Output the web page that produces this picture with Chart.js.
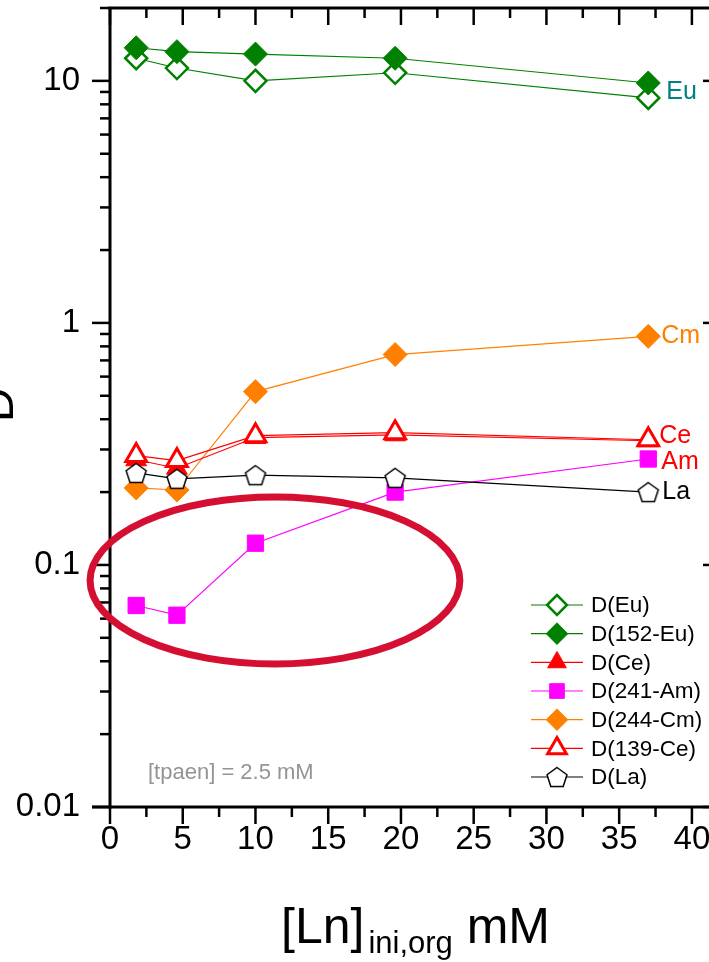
<!DOCTYPE html>
<html><head><meta charset="utf-8">
<script src="https://cdn.jsdelivr.net/npm/chart.js@4/dist/chart.umd.min.js"></script>
<style>
html,body{margin:0;padding:0;background:#fff;overflow:hidden}
#wrap{width:709px;height:962px;overflow:hidden;position:relative;background:#fff}
canvas{display:block;position:absolute;left:0;top:-7px}
</style>
</head><body>
<div id="wrap"><canvas id="c" width="740" height="969" style="width:740px;height:969px"></canvas></div>
<script>
// ---------- data ----------
const xConc   = [1.8, 4.6, 10, 19.6, 37];
const dEu     = [12.4, 11.3, 10.0, 10.8, 8.5];
const d152Eu  = [13.7, 13.2, 12.9, 12.4, 9.8];
const dCe     = [0.272, 0.251, 0.336, 0.345, 0.326];
const d241Am  = [0.068, 0.062, 0.123, 0.200, 0.274];
const d244Cm  = [0.208, 0.204, 0.52, 0.74, 0.88];
const d139Ce  = [0.283, 0.270, 0.342, 0.352, 0.329];
const dLa     = [0.240, 0.227, 0.235, 0.229, 0.200];
const seriesNames = ['D(Eu)', 'D(152-Eu)', 'D(Ce)', 'D(241-Am)', 'D(244-Cm)', 'D(139-Ce)', 'D(La)'];
const xTicks = [0, 5, 10, 15, 20, 25, 30, 35, 40];
const yTicks = [0.01, 0.1, 1, 10];
const endLabels = ['Eu', 'Cm', 'Ce', 'Am', 'La'];
const noteText = '[tpaen] = 2.5 mM';

// ---------- style ----------
const FONT = "'Liberation Sans', Arial, sans-serif";
const GREEN = '#008000', ORANGE = '#ff8000', RED = '#ff0000', MAGENTA = '#ff00ff', TEAL = '#008080';
const OY = 7; // canvas is shifted up by 7px

function pentagonImg() {
  const c = document.createElement('canvas');
  c.width = 26; c.height = 26;
  const g = c.getContext('2d');
  const R = 10.5, cx = 13, cy = 14;
  g.beginPath();
  for (let k = 0; k < 5; k++) {
    const ang = -Math.PI / 2 + k * 2 * Math.PI / 5;
    const px = cx + R * Math.cos(ang), py = cy + R * Math.sin(ang);
    k ? g.lineTo(px, py) : g.moveTo(px, py);
  }
  g.closePath();
  g.fillStyle = '#fff'; g.fill();
  g.strokeStyle = '#000'; g.lineWidth = 1.5; g.stroke();
  return c;
}
const PENT = pentagonImg();

function pts(arr) { return xConc.map((x, i) => ({ x: x, y: arr[i] })); }

const styles = [
  { color: GREEN,   style: 'rectRot',  radius: 11,  fill: '#fff',  bw: 2.5, order: 5 },
  { color: GREEN,   style: 'rectRot',  radius: 12,  fill: GREEN,   bw: 1,   order: 4 },
  { color: RED,     style: 'triangle', radius: 12,  fill: RED,     bw: 1,   order: 3 },
  { color: MAGENTA, style: 'rect',     radius: 11.5,fill: MAGENTA, bw: 1,   order: 6 },
  { color: ORANGE,  style: 'rectRot',  radius: 12,  fill: ORANGE,  bw: 1,   order: 7 },
  { color: RED,     style: 'triangle', radius: 12,  fill: '#fff',  bw: 3,   order: 1 },
  { color: '#000',  style: PENT,       radius: 11,  fill: '#fff',  bw: 1.5, order: 0 }
];
const seriesData = [dEu, d152Eu, dCe, d241Am, d244Cm, d139Ce, dLa];

const datasets = seriesNames.map((name, i) => {
  const s = styles[i];
  return {
    label: name,
    data: pts(seriesData[i]),
    borderColor: s.color,
    backgroundColor: s.fill,
    borderWidth: 1.2,
    tension: 0,
    pointStyle: s.style,
    pointRadius: s.radius,
    pointBorderWidth: s.bw,
    pointBackgroundColor: s.fill,
    pointBorderColor: s.color,
    order: s.order
  };
});

function line(ctx, x1, y1, x2, y2) { ctx.beginPath(); ctx.moveTo(x1, y1); ctx.lineTo(x2, y2); ctx.stroke(); }

const framePlugin = {
  id: 'frame',
  afterDatasetsDraw(chart) {
    const ctx = chart.ctx, a = chart.chartArea, xs = chart.scales.x, ys = chart.scales.y;
    ctx.save();
    ctx.strokeStyle = '#000';
    ctx.lineWidth = 2.5;
    for (let e = -2; e <= 1; e++) {
      for (let m = 2; m <= 9; m++) {
        const v = m * Math.pow(10, e);
        if (v > ys.max) continue;
        const py = ys.getPixelForValue(v);
        line(ctx, a.left - 10, py, a.left, py);
        line(ctx, a.right - 10, py, a.right, py);
      }
    }
    yTicks.forEach(v => {
      const py = ys.getPixelForValue(v);
      line(ctx, a.left - 18, py, a.left, py);
      line(ctx, a.right - 18, py, a.right, py);
    });
    for (let v = 2.5; v < xs.max; v += 5) {
      const px = xs.getPixelForValue(v);
      line(ctx, px, a.bottom, px, a.bottom + 10);
      line(ctx, px, a.top, px, a.top + 10);
    }
    xTicks.forEach(v => {
      const px = xs.getPixelForValue(v);
      line(ctx, px, a.bottom, px, a.bottom + 17);
      line(ctx, px, a.top, px, a.top + 17);
    });
    ctx.lineWidth = 3;
    line(ctx, a.left, a.top, a.left, a.bottom + 1.5);
    line(ctx, a.left - 18, a.bottom, a.right, a.bottom);
    line(ctx, a.left - 1.5, a.top, a.right, a.top);
    line(ctx, a.right, a.top, a.right, a.bottom);
    ctx.restore();
  },
  afterDraw(chart) {
    const ctx = chart.ctx, a = chart.chartArea, xs = chart.scales.x, ys = chart.scales.y;
    ctx.save();

    const metaPt = (di) => { const m = chart.getDatasetMeta(di); return m.data[m.data.length - 1]; };
    ctx.textBaseline = 'middle';
    ctx.textAlign = 'left';
    ctx.font = '25px ' + FONT;
    const eu0 = metaPt(0), eu1 = metaPt(1);
    ctx.fillStyle = TEAL;
    ctx.fillText(endLabels[0], eu0.x + 18, (eu0.y + eu1.y) / 2 + 2);
    const cm = metaPt(4); ctx.fillStyle = ORANGE; ctx.fillText(endLabels[1], cm.x + 13, cm.y);
    const ce = metaPt(5); ctx.fillStyle = RED; ctx.fillText(endLabels[2], ce.x + 11, ce.y - 4);
    const am = metaPt(3); ctx.fillStyle = RED; ctx.fillText(endLabels[3], am.x + 13, am.y + 3);
    const la = metaPt(6); ctx.fillStyle = '#000'; ctx.fillText(endLabels[4], la.x + 14, la.y);

    const ex0 = xs.getPixelForValue(-1.37), ex1 = xs.getPixelForValue(24.05);
    const ey0 = ys.getPixelForValue(0.191), ey1 = ys.getPixelForValue(0.039);
    ctx.beginPath();
    ctx.ellipse((ex0 + ex1) / 2, (ey0 + ey1) / 2, (ex1 - ex0) / 2, (ey1 - ey0) / 2, 0, 0, Math.PI * 2);
    ctx.strokeStyle = '#d40f32';
    ctx.lineWidth = 7;
    ctx.stroke();

    const lx0 = 531, lx1 = 583, lmx = 557, ltx = 591, ly0 = 605 + OY, ldy = 28.67;
    seriesNames.forEach((name, i) => {
      const s = styles[i];
      const y = ly0 + i * ldy;
      ctx.strokeStyle = s.color; ctx.lineWidth = 1.2;
      line(ctx, lx0, y, lx1, y);
      ctx.fillStyle = s.fill; ctx.strokeStyle = s.color; ctx.lineWidth = s.bw;
      Chart.helpers.drawPoint(ctx, { pointStyle: s.style, radius: s.radius * 0.9, borderWidth: s.bw, rotation: 0 }, lmx, y);
      ctx.fillStyle = '#000';
      ctx.font = '22.5px ' + FONT;
      ctx.textAlign = 'left'; ctx.textBaseline = 'middle';
      ctx.fillText(name, ltx, y + 1);
    });

    ctx.fillStyle = '#949494';
    ctx.font = '22px ' + FONT;
    ctx.textAlign = 'left'; ctx.textBaseline = 'middle';
    ctx.fillText(noteText, 148, 773 + OY);

    const mainF = '50px ' + FONT, subF = '31px ' + FONT;
    const p1 = '[Ln]', p2 = 'ini,org', p3 = ' mM';
    ctx.font = mainF; const w1 = ctx.measureText(p1).width, w3 = ctx.measureText(p3).width;
    ctx.font = subF; const w2 = ctx.measureText(p2).width;
    const tot = w1 + 4 + w2 + w3;
    let tx = (a.left + a.right) / 2 - tot / 2;
    const by = 943 + OY;
    ctx.textBaseline = 'alphabetic'; ctx.fillStyle = '#000';
    ctx.font = mainF; ctx.fillText(p1, tx, by); tx += w1 + 4;
    ctx.font = subF; ctx.fillText(p2, tx, by + 10); tx += w2;
    ctx.font = mainF; ctx.fillText(p3, tx, by);

    ctx.save();
    ctx.translate(13, 405 + OY);
    ctx.rotate(-Math.PI / 2);
    ctx.font = '48px ' + FONT;
    ctx.textAlign = 'center'; ctx.textBaseline = 'alphabetic';
    ctx.fillText('D', 0, 0);
    ctx.restore();

    ctx.restore();
  }
};

new Chart(document.getElementById('c'), {
  type: 'line',
  data: { datasets: datasets },
  options: {
    responsive: false,
    devicePixelRatio: 1,
    animation: false,
    events: [],
    layout: { padding: { left: 0, top: 0, right: 19, bottom: 0 } },
    plugins: { legend: { display: false }, tooltip: { enabled: false }, title: { display: false } },
    scales: {
      x: {
        type: 'linear', min: 0, max: 42,
        afterBuildTicks: s => { s.ticks = xTicks.map(v => ({ value: v })); },
        afterFit: s => { s.height = 155; s.paddingLeft = 0; s.paddingRight = 0; },
        grid: { display: false, drawTicks: false },
        border: { display: false },
        ticks: { autoSkip: false, maxRotation: 0, padding: 13, color: '#000', font: { family: FONT, size: 33 } }
      },
      y: {
        type: 'logarithmic', min: 0.01, max: 20,
        afterBuildTicks: s => { s.ticks = yTicks.map(v => ({ value: v })); },
        afterFit: s => { s.width = 110; s.paddingTop = 0; s.paddingBottom = 0; },
        grid: { display: false, drawTicks: false },
        border: { display: false },
        ticks: { autoSkip: false, padding: 30, color: '#000', font: { family: FONT, size: 33 }, callback: v => String(v) }
      }
    }
  },
  plugins: [framePlugin]
});
</script>
</body></html>
